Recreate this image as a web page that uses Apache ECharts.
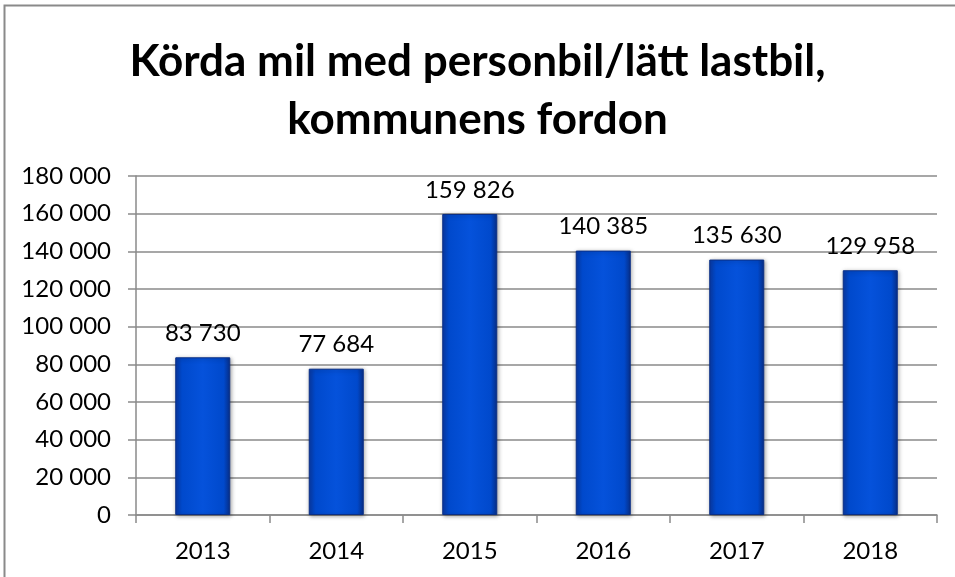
<!DOCTYPE html>
<html>
<head>
<meta charset="utf-8">
<script src="https://cdn.jsdelivr.net/npm/echarts@6/dist/echarts.min.js"></script>
<style>
  html, body { margin: 0; padding: 0; background: #fff; }
  #chart { width: 955px; height: 577px; }
</style>
</head>
<body>
<div id="chart"></div>
<script>
const titleText = "Körda mil med personbil/lätt lastbil,\nkommunens fordon";
const years = ["2013", "2014", "2015", "2016", "2017", "2018"];
const milValues = [83730, 77684, 159826, 140385, 135630, 129958];

const fmt = (v) => String(v).replace(/\B(?=(\d{3})+(?!\d))/g, " ");

const chart = echarts.init(document.getElementById("chart"));

const barGradient = new echarts.graphic.LinearGradient(0, 0, 1, 0, [
    { offset: 0, color: "#0a3aa6" },
    { offset: 0.12, color: "#0049cc" },
    { offset: 0.5, color: "#0552db" },
    { offset: 0.88, color: "#0049cc" },
    { offset: 1, color: "#082f8a" }
]);

const option = {
    backgroundColor: "#fff",
    textStyle: { fontFamily: "Lato" },
    title: {
        text: titleText,
        left: "center",
        top: 28,
        textStyle: {
            fontFamily: "Lato",
            fontSize: 44,
            fontWeight: "bold",
            color: "#000",
            lineHeight: 58
        }
    },
    graphic: [
        {
            type: "rect",
            shape: { x: 4.5, y: 5.5, width: 1000, height: 700 },
            style: { fill: "none", stroke: "#8a8a8a", lineWidth: 2 },
            silent: true
        }
    ],
    grid: {
        left: 136,
        right: 18,
        top: 176,
        bottom: 62
    },
    xAxis: {
        type: "category",
        data: years,
        axisLine: { lineStyle: { color: "#8a8a8a", width: 1.5 } },
        axisTick: { show: true, length: 8, lineStyle: { color: "#8a8a8a", width: 1.5 } },
        axisLabel: { color: "#000", fontSize: 24, margin: 24, fontFamily: "Lato" }
    },
    yAxis: {
        type: "value",
        min: 0,
        max: 180000,
        interval: 20000,
        axisLine: { show: true, lineStyle: { color: "#8a8a8a", width: 1.5 } },
        axisTick: { show: true, length: 8, lineStyle: { color: "#8a8a8a", width: 1.5 } },
        splitLine: { lineStyle: { color: "#8a8a8a", width: 1.5 } },
        axisLabel: {
            color: "#000",
            fontSize: 24,
            margin: 25,
            fontFamily: "Lato",
            formatter: (v) => fmt(v)
        }
    },
    series: [
        {
            type: "bar",
            data: milValues,
            barWidth: 55,
            itemStyle: {
                color: barGradient,
                borderColor: "#0a2f86",
                borderWidth: 1,
                shadowColor: "rgba(0,0,0,0.35)",
                shadowBlur: 4,
                shadowOffsetX: 1,
                shadowOffsetY: 1
            },
            label: {
                show: true,
                position: "top",
                distance: 12,
                color: "#000",
                fontSize: 24,
                fontFamily: "Lato",
                formatter: (p) => fmt(p.value)
            }
        }
    ]
};

chart.setOption(option);
</script>
</body>
</html>
